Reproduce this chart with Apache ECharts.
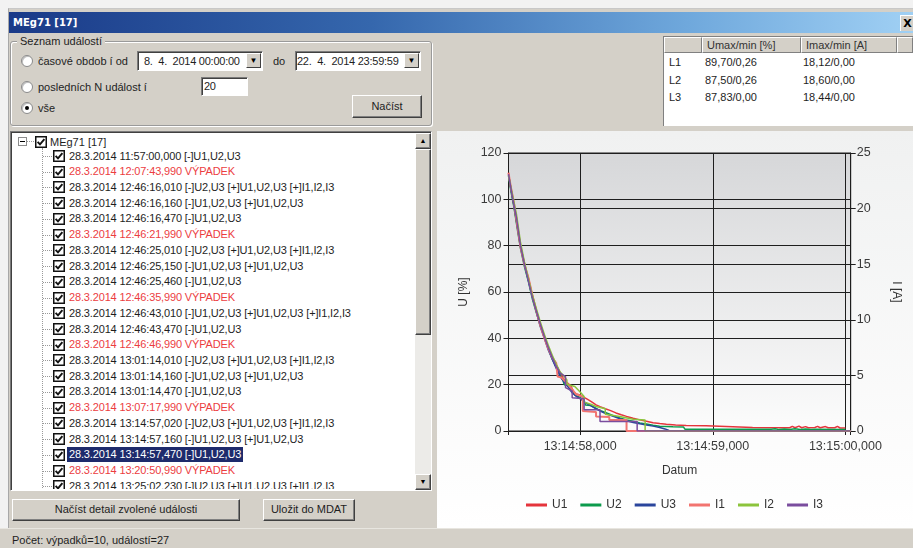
<!DOCTYPE html>
<html><head><meta charset="utf-8">
<script src="https://cdn.jsdelivr.net/npm/echarts/dist/echarts.min.js"></script>
<style>
html,body{margin:0;padding:0;}
body{width:913px;height:548px;position:relative;overflow:hidden;background:#f2f2f2;font-family:"Liberation Sans",Arial,sans-serif;font-size:11px;color:#1e1e1e;}
.a{position:absolute;box-sizing:border-box;}
.txt{white-space:nowrap;line-height:14px;}
#win{left:8px;top:8px;width:905px;height:540px;background:#d4d0c8;border-left:1px solid #a8a8a8;border-top:1px solid #c8c8c8;}
#title{left:9px;top:12px;width:904px;height:21px;background:linear-gradient(to right,#1a3a88 0%,#3567ad 40%,#6fa8dc 75%,#a0d0f4 100%);color:#fff;font-weight:bold;font-family:"DejaVu Sans",sans-serif;font-size:10px;line-height:21px;padding-left:4px;}
#close{left:900px;top:15px;width:14px;height:16px;background:#d4d0c8;border-left:1px solid #fff;border-top:1px solid #fff;font-weight:bold;font-family:"DejaVu Sans",sans-serif;font-size:11px;line-height:15px;text-align:center;color:#000;}
.group{left:10px;top:41px;width:422px;height:85px;border:1px solid #9a9a9a;border-radius:3px;box-shadow:inset 1px 1px #fff,1px 1px #fff;}
.glabel{left:17px;top:34px;padding:0 3px;background:#d4d0c8;}
.radio{width:12px;height:12px;border-radius:50%;background:#fff;border:1px solid #8a8a8a;box-shadow:inset 1px 1px #c0c0c0;}
.dot{left:3px;top:3px;width:4px;height:4px;border-radius:50%;background:#000;}
.sunk{background:#fff;border-top:1px solid #7a7a7a;border-left:1px solid #7a7a7a;border-bottom:1px solid #fff;border-right:1px solid #fff;box-shadow:inset 1px 1px #404040;}
.btn{background:#d4d0c8;border:1px solid;border-color:#fff #404040 #404040 #fff;box-shadow:inset -1px -1px #808080;text-align:center;}
.dd{width:15px;height:15px;background:#d4d0c8;border:1px solid;border-color:#fff #404040 #404040 #fff;font-size:8px;line-height:13px;text-align:center;color:#000;}
.cb{width:12px;height:12px;}
.hdr{top:0;height:16px;background:#d4d0c8;border:1px solid;border-color:#fff #808080 #808080 #fff;line-height:14px;padding-left:4px;color:#333;}
.sel{background:#1e2b6c;color:#fff;}
.vdot{border-left:1px dotted #9a9a9a;}
.hdot{border-top:1px dotted #9a9a9a;height:1px;}
.dt{font-size:11px;letter-spacing:-0.25px;}
</style></head><body>
<div id="win" class="a"></div>
<div id="title" class="a">MEg71 [17]</div>
<div id="close" class="a">X</div>

<div class="a group"></div>
<div class="a glabel txt">Seznam událostí</div>
<div class="a radio" style="left:21px;top:55px;"></div>
<div class="a txt" style="left:38px;top:54px;">časové obdob í od</div>
<div class="a sunk" style="left:137px;top:51px;width:126px;height:20px;"></div>
<div class="a txt dt" style="left:144px;top:54px;">8.&nbsp; 4.&nbsp; 2014 00:00:00</div>
<div class="a dd" style="left:246px;top:53px;">▼</div>
<div class="a txt" style="left:273px;top:54px;">do</div>
<div class="a sunk" style="left:295px;top:51px;width:126px;height:20px;"></div>
<div class="a txt dt" style="left:297px;top:54px;">22.&nbsp; 4.&nbsp; 2014 23:59:59</div>
<div class="a dd" style="left:404px;top:53px;">▼</div>
<div class="a radio" style="left:21px;top:81px;"></div>
<div class="a txt" style="left:38px;top:80px;">posledních N událost í</div>
<div class="a sunk" style="left:201px;top:77px;width:47px;height:19px;"></div>
<div class="a txt dt" style="left:204px;top:79px;">20</div>
<div class="a radio" style="left:21px;top:102px;"><div class="a dot"></div></div>
<div class="a txt" style="left:38px;top:101px;">vše</div>
<div class="a btn txt" style="left:352px;top:95px;width:70px;height:23px;line-height:20px;">Načíst</div>

<div class="a" style="left:663px;top:36px;width:250px;height:90px;background:#fff;border-left:1px solid #808080;border-top:1px solid #808080;"></div>
<div class="a" style="left:664px;top:37px;width:249px;height:16px;">
  <div class="a hdr" style="left:0;width:38px;"></div>
  <div class="a hdr txt" style="left:38px;width:99px;">Umax/min [%]</div>
  <div class="a hdr txt" style="left:137px;width:96px;">Imax/min [A]</div>
  <div class="a hdr" style="left:233px;width:16px;"></div>
</div>
<div id="tbl"></div>

<div class="a sunk" style="left:10px;top:131px;width:422px;height:360px;"></div>
<div class="a" style="left:415px;top:133px;width:16px;height:357px;background:#ecebe8;"></div>
<div class="a btn" style="left:415px;top:133px;width:16px;height:16px;font-size:7px;line-height:14px;color:#000;">▲</div>
<div class="a btn" style="left:415px;top:149px;width:16px;height:186px;"></div>
<div class="a btn" style="left:415px;top:474px;width:16px;height:16px;font-size:7px;line-height:14px;color:#000;">▼</div>
<div id="tree"></div>

<div class="a btn txt" style="left:12px;top:499px;width:228px;height:22px;line-height:19px;">Načíst detail zvolené události</div>
<div class="a btn txt" style="left:263px;top:499px;width:92px;height:22px;line-height:19px;">Uložit do MDAT</div>

<div class="a" style="left:0;top:528px;width:913px;height:20px;background:#d4d0c8;border-top:1px solid #e8e6e0;"></div>
<div class="a txt" style="left:12px;top:533px;">Počet: výpadků=10, událostí=27</div>

<div id="chart" class="a" style="left:437px;top:131px;width:476px;height:397px;"></div>

<script>
// ---------- chart data ----------
const seriesNames = ['U1','U2','U3','I1','I2','I3'];
const seriesColors = ['#e5343c','#0c9b4c','#2a459c','#f27470','#8cc43c','#7a4d9e'];
const xTickValues = [58, 59, 60];
const xTickLabels = ['13:14:58,000','13:14:59,000','13:15:00,000'];
// time in seconds within 13:14 (60 = 13:15:00), U in %, I in A
const u1 = [[57.46,111.5],[57.47,107],[57.49,101],[57.51,94],[57.53,87],[57.55,80],[57.57,75],[57.59,70],[57.61,66],[57.63,61],[57.65,56.5],[57.67,52],[57.69,48],[57.71,44.5],[57.73,41],[57.75,37.5],[57.77,34.5],[57.79,32],[57.81,29.5],[57.83,27.5],[57.85,25],[57.87,23],[57.89,21.5],[57.91,20.5],[57.93,19.5],[57.95,17],[57.97,16],[58.00,15.5],[58.03,14.5],[58.06,13.5],[58.09,12.5],[58.12,11.3],[58.15,10.5],[58.19,9.6],[58.23,8.8],[58.27,7.8],[58.31,7.0],[58.35,6.3],[58.40,5.5],[58.45,4.8],[58.50,4.2],[58.55,3.6],[58.60,3.2],[58.65,2.9],[58.72,2.6],[58.80,2.4],[58.95,2.3],[58.96,1.5],[59.30,1.5],[59.58,1.4],[59.60,2.0],[59.62,1.4],[59.65,2.1],[59.67,1.4],[59.70,1.9],[59.72,1.4],[59.77,1.5],[59.79,2.0],[59.81,1.4],[59.85,1.9],[59.87,1.4],[59.92,1.4],[59.94,2.0],[59.96,1.3],[60.00,1.3]];
const u2 = [[57.46,110],[57.48,103],[57.50,97],[57.53,86],[57.55,79],[57.58,71],[57.61,64.5],[57.64,57],[57.67,51],[57.70,45.5],[57.73,40.5],[57.76,35.5],[57.79,31],[57.82,27.5],[57.85,24],[57.87,22],[57.88,20],[57.92,19.5],[57.96,15.5],[58.00,14.5],[58.03,13],[58.04,11.2],[58.08,11],[58.12,9.8],[58.16,8.6],[58.20,7.8],[58.25,6.6],[58.30,5.6],[58.35,4.8],[58.40,4.2],[58.45,3.5],[58.50,3.0],[58.55,2.5],[58.60,2.1],[58.70,1.8],[58.78,1.7],[58.79,0.8],[59.44,0.8],[59.47,1.0],[59.50,0.6],[59.54,0.9],[59.58,0.6],[59.62,1.0],[59.66,0.6],[59.70,0.9],[59.74,0.6],[59.77,0.8],[60.00,0.7]];
const u3 = [[57.46,110.5],[57.48,104],[57.50,98],[57.53,87],[57.55,79.5],[57.58,72],[57.61,65],[57.64,58],[57.67,51.5],[57.70,45],[57.73,40],[57.76,35],[57.79,31],[57.82,27],[57.85,23.5],[57.88,21],[57.91,19],[57.94,16.5],[57.97,15],[58.00,14],[58.04,12.2],[58.08,11],[58.12,9.6],[58.16,8.4],[58.20,7.3],[58.25,6.3],[58.30,5.3],[58.35,4.4],[58.40,3.7],[58.45,3.1],[58.50,2.6],[58.55,2.1],[58.60,1.5],[58.64,0.9],[58.67,0.2],[58.68,0],[60.04,0]];
const i1 = [[57.46,23.2],[57.48,21.8],[57.50,20.6],[57.53,18.2],[57.55,16.6],[57.58,15.0],[57.61,13.8],[57.64,12.2],[57.67,10.8],[57.70,9.5],[57.73,8.4],[57.76,7.4],[57.79,6.6],[57.82,6.1],[57.83,6.0],[57.83,4.9],[57.86,4.8],[57.90,4.3],[57.93,3.9],[57.97,3.3],[58.02,3.1],[58.02,1.8],[58.12,1.7],[58.12,1.3],[58.22,1.25],[58.22,1.0],[58.35,1.0],[58.35,0],[60.04,0]];
const i2 = [[57.46,23.0],[57.49,21.2],[57.52,19.5],[57.55,17.0],[57.58,15.2],[57.61,13.7],[57.64,12.2],[57.67,11.0],[57.70,9.8],[57.73,8.7],[57.76,7.7],[57.79,6.8],[57.82,6.0],[57.85,5.3],[57.88,4.9],[57.90,4.6],[57.90,4.2],[57.96,4.0],[58.00,3.5],[58.03,3.1],[58.03,2.6],[58.08,2.4],[58.12,2.2],[58.19,2.0],[58.19,1.5],[58.30,1.3],[58.40,1.05],[58.49,1.0],[58.49,0],[60.04,0]];
const i3 = [[57.46,23.1],[57.49,21.0],[57.52,19.2],[57.55,16.7],[57.58,15.0],[57.61,13.5],[57.64,12.0],[57.67,10.8],[57.70,9.6],[57.73,8.5],[57.76,7.5],[57.79,6.6],[57.82,5.8],[57.85,5.2],[57.89,4.9],[57.89,3.9],[57.94,3.6],[57.94,3.0],[58.03,2.9],[58.03,1.9],[58.15,1.9],[58.15,0.85],[58.43,0.85],[58.43,0],[60.04,0]];

// ---------- UI text ----------
const tableRows = [['L1','89,70/0,26','18,12/0,00'],['L2','87,50/0,26','18,60/0,00'],['L3','87,83/0,00','18,44/0,00']];
const events = [
 ['28.3.2014 11:57:00,000 [-]U1,U2,U3',0],['28.3.2014 12:07:43,990 VÝPADEK',1],
 ['28.3.2014 12:46:16,010 [-]U2,U3 [+]U1,U2,U3 [+]I1,I2,I3',0],['28.3.2014 12:46:16,160 [-]U1,U2,U3 [+]U1,U2,U3',0],
 ['28.3.2014 12:46:16,470 [-]U1,U2,U3',0],['28.3.2014 12:46:21,990 VÝPADEK',1],
 ['28.3.2014 12:46:25,010 [-]U2,U3 [+]U1,U2,U3 [+]I1,I2,I3',0],['28.3.2014 12:46:25,150 [-]U1,U2,U3 [+]U1,U2,U3',0],
 ['28.3.2014 12:46:25,460 [-]U1,U2,U3',0],['28.3.2014 12:46:35,990 VÝPADEK',1],
 ['28.3.2014 12:46:43,010 [-]U1,U2,U3 [+]U1,U2,U3 [+]I1,I2,I3',0],['28.3.2014 12:46:43,470 [-]U1,U2,U3',0],
 ['28.3.2014 12:46:46,990 VÝPADEK',1],['28.3.2014 13:01:14,010 [-]U2,U3 [+]U1,U2,U3 [+]I1,I2,I3',0],
 ['28.3.2014 13:01:14,160 [-]U1,U2,U3 [+]U1,U2,U3',0],['28.3.2014 13:01:14,470 [-]U1,U2,U3',0],
 ['28.3.2014 13:07:17,990 VÝPADEK',1],['28.3.2014 13:14:57,020 [-]U2,U3 [+]U1,U2,U3 [+]I1,I2,I3',0],
 ['28.3.2014 13:14:57,160 [-]U1,U2,U3 [+]U1,U2,U3',0],['28.3.2014 13:14:57,470 [-]U1,U2,U3',2],
 ['28.3.2014 13:20:50,990 VÝPADEK',1],['28.3.2014 13:25:02,230 [-]U2,U3 [+]U1,U2,U3 [+]I1,I2,I3',0]
];

const cbSvg = '<svg width="12" height="12" viewBox="0 0 12 12"><rect x="0.75" y="0.75" width="10.5" height="10.5" fill="#fff" stroke="#111" stroke-width="1.5"/><polyline points="2.6,5.8 5,8.4 9.4,3.2" fill="none" stroke="#111" stroke-width="1.9"/></svg>';

(function buildUI(){
  let h = '';
  tableRows.forEach((r,k)=>{
    const y = 55 + k*17.5;
    h += `<div class="a txt" style="left:669px;top:${y}px;">${r[0]}</div>`;
    h += `<div class="a txt" style="left:705px;top:${y}px;">${r[1]}</div>`;
    h += `<div class="a txt" style="left:803px;top:${y}px;">${r[2]}</div>`;
  });
  document.getElementById('tbl').innerHTML = h;
  let t = '';
  t += '<div class="a" style="left:12px;top:133px;width:403px;height:356px;overflow:hidden;">';
  const ox = 12, oy = 133;
  t += `<div class="a" style="left:${18-ox}px;top:${137-oy}px;width:9px;height:9px;border:1px solid #8c8c8c;background:#fff;"><div class="a" style="left:1px;top:3px;width:5px;height:1px;background:#000;"></div></div>`;
  t += `<div class="a hdot" style="left:${27-ox}px;top:${141-oy}px;width:7px;"></div>`;
  t += `<div class="a cb" style="left:${35-ox}px;top:${136-oy}px;">${cbSvg}</div>`;
  t += `<div class="a txt" style="left:${50-ox}px;top:${135-oy}px;">MEg71 [17]</div>`;
  t += `<div class="a vdot" style="left:${42-ox}px;top:${148-oy}px;width:1px;height:${360}px;"></div>`;
  events.forEach((e,k)=>{
    const cy = 156 + k*15.73;
    t += `<div class="a hdot" style="left:${43-ox}px;top:${cy-oy}px;width:9px;"></div>`;
    t += `<div class="a cb" style="left:${53-ox}px;top:${cy-6-oy}px;">${cbSvg}</div>`;
    const col = e[1]===1 ? 'color:#ec3d3f;' : '';
    const cls = e[1]===2 ? ' sel' : '';
    t += `<div class="a txt${cls}" style="left:${67-ox}px;top:${cy-7.5-oy}px;height:15px;padding:0 2px;letter-spacing:-0.15px;${col}">${e[0]}</div>`;
  });
  t += '</div>';
  document.getElementById('tree').innerHTML = t;
})();

// ---------- chart ----------
const chart = echarts.init(document.getElementById('chart'), null, {renderer:'canvas'});
const dataSets = [u1,u2,u3,i1,i2,i3];
const axisColor = '#1e1e1e';
const fontFam = 'Liberation Sans, Arial, sans-serif';
const labelStyle = {color:'#3a3a3a', fontSize:12.5, fontFamily:fontFam};
chart.setOption({
  animation:false,
  backgroundColor:{type:'linear',x:0,y:0,x2:0,y2:1,colorStops:[{offset:0,color:'#f0f1f1'},{offset:1,color:'#ffffff'}]},
  grid:{left:71.5,right:62.3,top:22,bottom:97,show:true,borderColor:axisColor,borderWidth:1,
    backgroundColor:{type:'linear',x:0,y:0,x2:0,y2:1,colorStops:[{offset:0,color:'#d6d7d9'},{offset:1,color:'#fcfcfc'}]},
    outerBoundsMode:'none'},
  legend:{show:true,left:84,top:363,padding:5,itemWidth:21,itemHeight:3,itemGap:13,icon:'rect',
    textStyle:{color:'#333',fontSize:12,fontFamily:fontFam},
    data:seriesNames},
  xAxis:{type:'value',min:57.46,max:60.04,splitNumber:2,minInterval:1,maxInterval:1,
    name:'Datum',nameLocation:'middle',nameGap:34,nameTextStyle:{color:'#333',fontSize:12,fontFamily:fontFam},
    axisLine:{show:true,lineStyle:{color:axisColor,width:1}},
    axisTick:{show:true,inside:false,length:4,lineStyle:{color:axisColor}},
    splitLine:{show:true,lineStyle:{color:axisColor,width:1}},
    axisLabel:Object.assign({margin:9,customValues:xTickValues,
      formatter:function(v){const k=xTickValues.findIndex(t=>Math.abs(t-v)<1e-6);return k>=0?xTickLabels[k]:'';}},labelStyle)},
  yAxis:[
    {type:'value',min:0,max:120,interval:20,position:'left',
     name:'U [%]',nameLocation:'middle',nameRotate:90,nameGap:39,nameTextStyle:{color:'#333',fontSize:12,fontFamily:fontFam},
     axisLine:{show:true,lineStyle:{color:axisColor}},axisTick:{show:true,length:5,lineStyle:{color:axisColor}},
     splitLine:{show:true,lineStyle:{color:axisColor,width:1}},axisLabel:Object.assign({margin:7},labelStyle)},
    {type:'value',min:0,max:25,interval:5,position:'right',
     name:'I [A]',nameLocation:'middle',nameRotate:-90,nameGap:40,nameTextStyle:{color:'#333',fontSize:12,fontFamily:fontFam},
     axisLine:{show:true,lineStyle:{color:axisColor}},axisTick:{show:true,length:5,lineStyle:{color:axisColor}},
     splitLine:{show:true,lineStyle:{color:axisColor,width:1}},axisLabel:Object.assign({margin:6},labelStyle)}
  ],
  series:seriesNames.map((n,k)=>({
    name:n,type:'line',yAxisIndex:k<3?0:1,data:dataSets[k],symbol:'none',showSymbol:false,clip:true,
    color:seriesColors[k],
    lineStyle:{color:seriesColors[k],width:k===3?2:1.5},itemStyle:{color:seriesColors[k]}
  }))
});
</script>
</body></html>
